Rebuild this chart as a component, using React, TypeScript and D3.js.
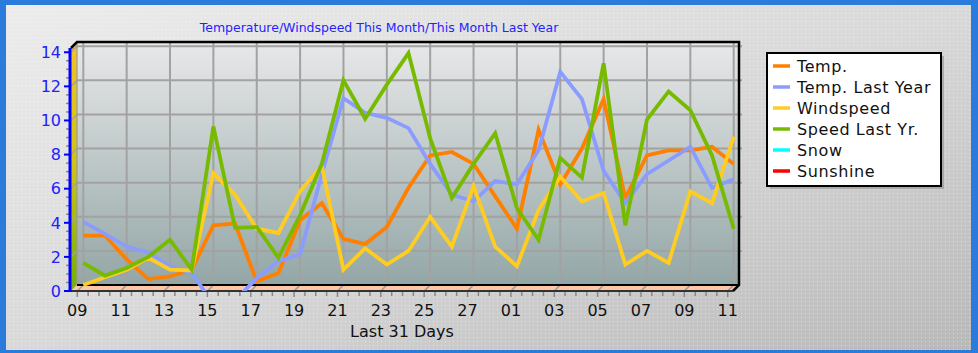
import React from 'react';
import * as d3 from 'd3';

// last 31 days, one reading per day
const days = [
  '09', '10', '11', '12', '13', '14', '15', '16', '17', '18', '19', '20', '21', '22', '23', '24',
  '25', '26', '27', '28', '01', '02', '03', '04', '05', '06', '07', '08', '09', '10', '11'
];
const temp = [2.9, 2.9, 1.5, 0.35, 0.5, 0.9, 3.5, 3.6, 0.2, 0.7, 3.8, 4.8, 2.7, 2.4, 3.4, 5.7,
  7.6, 7.8, 7.1, 5.2, 3.3, 9.1, 5.9, 8.0, 10.9, 5.1, 7.6, 7.9, 7.9, 8.1, 7.1];
const tempLastYear = [3.7, 3.0, 2.25, 1.9, 1.1, 0.7, -1.1, -0.9, 0.4, 1.4, 1.8, 6.5, 10.95, 10.1, 9.8, 9.2,
  7.1, 5.3, 4.9, 6.1, 5.9, 7.9, 12.5, 10.9, 6.7, 4.8, 6.5, 7.3, 8.1, 5.7, 6.2];
const windspeed = [0, 0.45, 0.9, 1.6, 0.9, 0.85, 6.55, 5.3, 3.3, 3.05, 5.5, 7.0, 0.9, 2.15, 1.2, 2.0,
  4.0, 2.25, 5.8, 2.25, 1.1, 4.4, 6.35, 4.9, 5.4, 1.2, 2.0, 1.3, 5.5, 4.8, 8.7];
const speedLastYear = [1.3, 0.55, 1.0, 1.65, 2.65, 0.9, 9.3, 3.35, 3.4, 1.6, 4.1, 7.1, 12.0, 9.75, 11.75, 13.6,
  8.6, 5.1, 7.1, 8.9, 4.5, 2.65, 7.45, 6.3, 13.0, 3.5, 9.7, 11.35, 10.25, 7.6, 3.3];
// no readings shown for these two
const snow: number[] = [];
const sunshine: number[] = [];

const yTicks = [0, 2, 4, 6, 8, 10, 12, 14];

const series = [
  { name: 'Temp.', color: '#ff8000', values: temp },
  { name: 'Temp. Last Year', color: '#8b9cff', values: tempLastYear },
  { name: 'Windspeed', color: '#ffcc22', values: windspeed },
  { name: 'Speed Last Yr.', color: '#77bb00', values: speedLastYear },
  { name: 'Snow', color: '#00ffff', values: snow },
  { name: 'Sunshine', color: '#ff0000', values: sunshine },
];

const width = 978;
const height = 353;
const plot = { left: 71, right: 733, top: 48, bottom: 291 };
const depth = 6;
const font = 'DejaVu Sans, Verdana, sans-serif';

export default function App() {
  const x = d3.scaleLinear().domain([0, days.length - 1]).range([plot.left + 6.3, plot.right - 5.3]);
  const y = d3.scaleLinear().domain([0, 14.25]).range([plot.bottom, plot.top]);

  const line = d3.line<number>()
    .x((_, i) => x(i) + depth)
    .y(v => y(v) - depth);

  const backL = plot.left + depth;
  const backR = plot.right + depth;
  const backT = plot.top - depth;
  const backB = plot.bottom - depth;

  const minorY = d3.range(0, 14.01, 0.5).filter(v => v % 2 !== 0);
  const dayIdx = d3.range(days.length);
  const minorX = d3.range(0, days.length - 0.9, 0.5).filter(v => v % 2 !== 0);

  const legend = { x: 767, y: 53, w: 174, h: 133, row: 21 };

  return (
    <svg width={width} height={height} style={{ position: 'fixed', left: 0, top: 0 }}>
      <defs>
        <linearGradient id="bg" x1="0" y1="0" x2="1" y2="1">
          <stop offset="0" stopColor="#ececec" />
          <stop offset="0.5" stopColor="#d9d9d9" />
          <stop offset="1" stopColor="#b9b9b9" />
        </linearGradient>
        <linearGradient id="plotbg" x1="0" y1="0" x2="0" y2="1">
          <stop offset="0" stopColor="#e8e8e9" />
          <stop offset="1" stopColor="#93a6a6" />
        </linearGradient>
        <linearGradient id="wall" x1="0" y1="0" x2="0" y2="1">
          <stop offset="0" stopColor="#f4c224" />
          <stop offset="0.5" stopColor="#cfc414" />
          <stop offset="1" stopColor="#74b000" />
        </linearGradient>
        <pattern id="dots" width="4" height="4" patternUnits="userSpaceOnUse">
          <rect x={1} y={1} width={1} height={1} fill="#fff" opacity={0.45} />
        </pattern>
        <clipPath id="clip">
          <rect x={backL} y={backT} width={backR - backL} height={plot.bottom - backT} />
        </clipPath>
      </defs>

      <rect width={width} height={height} fill="#2b7bdc" />
      <rect x={6} y={5} width={965} height={345} fill="url(#bg)" />
      <rect x={6} y={5} width={965} height={345} fill="url(#dots)" />

      <text x={379} y={32} textAnchor="middle" fontFamily={font} fontSize={12.5} fill="#2424ff">
        Temperature/Windspeed This Month/This Month Last Year
      </text>

      {/* back plane */}
      <rect x={backL} y={backT} width={backR - backL} height={backB - backT} fill="url(#plotbg)" />
      {yTicks.filter(v => v > 0).map(v => (
        <line key={'gy' + v} x1={backL} x2={backR + 3} y1={y(v) - depth} y2={y(v) - depth}
          stroke="#a2a2a2" strokeWidth={2} />
      ))}
      {dayIdx.filter(i => i % 2 === 0).map(i => (
        <line key={'gx' + i} x1={x(i) + depth} x2={x(i) + depth} y1={backT} y2={backB}
          stroke="#a2a2a2" strokeWidth={2} />
      ))}

      {/* left wall */}
      <polygon points={`${plot.left},${plot.top} ${backL},${backT} ${backL},${backB} ${plot.left},${plot.bottom}`}
        fill="url(#wall)" />
      {yTicks.map(v => (
        <line key={'wy' + v} x1={plot.left} x2={backL} y1={y(v)} y2={y(v) - depth}
          stroke="#a2a2a2" strokeWidth={1.5} />
      ))}
      <line x1={backL} x2={backL} y1={backT} y2={backB} stroke="#9a9a9a" strokeWidth={1.2} />

      {/* floor */}
      <polygon points={`${plot.left},${plot.bottom} ${backL},${backB} ${backR},${backB} ${plot.right},${plot.bottom}`}
        fill="#ffc6a4" />
      {dayIdx.filter(i => i % 2 === 0).map(i => (
        <line key={'fx' + i} x1={x(i)} x2={x(i) + depth} y1={plot.bottom} y2={backB}
          stroke="#9a9a9a" strokeWidth={1.5} />
      ))}

      {/* frame */}
      <path d={`M${plot.left},${plot.top} L${backL},${backT} L${backR},${backT} L${backR},${backB} L${plot.right},${plot.bottom}`}
        fill="none" stroke="#000" strokeWidth={2.5} strokeLinejoin="miter" />
      <line x1={backL} x2={backR} y1={backB} y2={backB} stroke="#000" strokeWidth={2} />
      <line x1={plot.left} x2={plot.right} y1={plot.bottom} y2={plot.bottom} stroke="#333" strokeWidth={2} />

      {/* series */}
      <g clipPath="url(#clip)">
        {series.filter(s => s.values.length > 0).map(s => (
          <path key={s.name} d={line(s.values) ?? ''} fill="none" stroke={s.color}
            strokeWidth={3.8} strokeLinejoin="miter" strokeLinecap="butt" />
        ))}
      </g>

      {/* y axis */}
      {minorY.map(v => (
        <line key={'my' + v} x1={66} x2={plot.left} y1={y(v)} y2={y(v)} stroke="#888" strokeWidth={1.5} />
      ))}
      <line x1={plot.left - 1} x2={plot.left - 1} y1={plot.top} y2={plot.bottom + 1} stroke="#0000ff" strokeWidth={3} />
      {yTicks.map(v => (
        <g key={'ty' + v}>
          <line x1={64} x2={plot.left} y1={y(v)} y2={y(v)} stroke="#0000ff" strokeWidth={2} />
          <text x={61} y={y(v)} dy="0.36em" textAnchor="end" fontFamily={font} fontSize={16} fill="#2020ff">
            {v}
          </text>
        </g>
      ))}

      {/* x axis */}
      {minorX.map(v => (
        <line key={'mx' + v} x1={x(v)} x2={x(v)} y1={plot.bottom + 1} y2={plot.bottom + 5}
          stroke="#888" strokeWidth={1.5} />
      ))}
      {dayIdx.filter(i => i % 2 === 0).map(i => (
        <g key={'tx' + i}>
          <line x1={x(i)} x2={x(i)} y1={plot.bottom + 1} y2={plot.bottom + 6} stroke="#888" strokeWidth={1.5} />
          <text x={x(i)} y={316} textAnchor="middle" fontFamily={font} fontSize={16} fill="#111">
            {days[i]}
          </text>
        </g>
      ))}
      <text x={(plot.left + plot.right) / 2} y={337} textAnchor="middle" fontFamily={font} fontSize={16} fill="#111">
        Last 31 Days
      </text>

      {/* legend */}
      <rect x={legend.x + 3} y={legend.y + 3} width={legend.w} height={legend.h} fill="#8a8a8a" opacity={0.55} />
      <rect x={legend.x} y={legend.y} width={legend.w} height={legend.h} fill="#fff" stroke="#000" strokeWidth={2} />
      {series.map((s, i) => (
        <g key={'lg' + s.name} transform={`translate(${legend.x + 6},${legend.y + 13 + i * legend.row})`}>
          <line x1={0} x2={17} y1={0} y2={0} stroke={s.color} strokeWidth={3.5} />
          <text x={24} y={0} dy="0.36em" fontFamily={font} fontSize={16} letterSpacing={0.6} fill="#111">
            {s.name}
          </text>
        </g>
      ))}
    </svg>
  );
}
